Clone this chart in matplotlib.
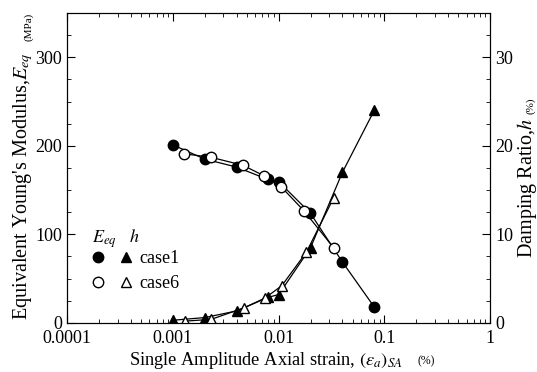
import matplotlib
matplotlib.use("Agg")
import matplotlib.pyplot as plt
from matplotlib.ticker import MultipleLocator, LogLocator, NullFormatter, FixedFormatter, FixedLocator
from matplotlib.lines import Line2D
from matplotlib.legend_handler import HandlerTuple

plt.rcParams['font.family'] = ['Liberation Serif', 'DejaVu Serif']
plt.rcParams['mathtext.fontset'] = 'stix'

# equivalent Young's modulus (MPa)
strain_e1 = [0.001, 0.002, 0.004, 0.0079, 0.0101, 0.0199, 0.0399, 0.08]
eeq_case1 = [201, 185, 176, 162, 159, 124, 69, 18]
strain_e6 = [0.00128, 0.0023, 0.0046, 0.0073, 0.0105, 0.0175, 0.033]
eeq_case6 = [191, 187, 178, 166, 154, 126, 85]

# damping ratio (%)
strain_h1 = [0.001, 0.002, 0.004, 0.008, 0.01, 0.02, 0.04, 0.08]
h_case1 = [0.3, 0.6, 1.35, 2.9, 3.2, 8.5, 17.0, 24.0]
strain_h6 = [0.0013, 0.0023, 0.0047, 0.0074, 0.0107, 0.0183, 0.033]
h_case6 = [0.2, 0.4, 1.7, 2.8, 4.2, 8.0, 14.1]

fig = plt.figure(figsize=(5.37, 3.72), dpi=100)
ax = fig.add_axes([0.125, 0.132, 0.788, 0.833])
ax2 = ax.twinx()

fs = 13
ms = 7.5
lw = 0.9

ax.plot(strain_e1, eeq_case1, 'o-', color='black', mfc='black', ms=ms, lw=lw)
ax.plot(strain_e6, eeq_case6, 'o-', color='black', mfc='white', ms=ms, lw=lw)
ax2.plot(strain_h1, h_case1, '^-', color='black', mfc='black', ms=ms, lw=lw)
ax2.plot(strain_h6, h_case6, '^-', color='black', mfc='white', ms=ms, lw=lw)

ax.set_xscale('log')
ax.set_xlim(0.0001, 1)
ax.set_ylim(0, 350)
ax2.set_ylim(0, 35)

ax.xaxis.set_major_locator(FixedLocator([0.0001, 0.001, 0.01, 0.1, 1]))
ax.xaxis.set_major_formatter(FixedFormatter(['0.0001', '0.001', '0.01', '0.1', '1']))
ax.xaxis.set_minor_locator(LogLocator(base=10, subs=range(2, 10)))
ax.xaxis.set_minor_formatter(NullFormatter())
ax.yaxis.set_major_locator(MultipleLocator(100))
ax.yaxis.set_minor_locator(MultipleLocator(25))
ax2.yaxis.set_major_locator(MultipleLocator(10))
ax2.yaxis.set_minor_locator(MultipleLocator(2.5))

ax.tick_params(which='both', direction='in', top=True, labelsize=fs)
ax.tick_params(which='major', length=6)
ax.tick_params(which='minor', length=3)
ax2.tick_params(which='both', direction='in', labelsize=fs)
ax2.tick_params(which='major', length=6)
ax2.tick_params(which='minor', length=3)
ax.tick_params(axis='x', pad=5)

ax.set_xlabel(r"Single Amplitude Axial strain, $(\varepsilon_a)_{SA}$", fontsize=13.2, x=0.47, labelpad=2)
ax.set_ylabel(r"Equivalent Young's Modulus,$E_{eq}$", fontsize=14.5, y=0.44, labelpad=0)
ax2.set_ylabel(r"Damping Ratio,$h$", fontsize=14.5, y=0.435, labelpad=1)
fig.text(0.778, 0.02, "(%)", fontsize=8.5)
fig.text(0.045, 0.965, "(MPa)", fontsize=8, rotation=90, va='top')
fig.text(0.98, 0.715, "(%)", fontsize=8, rotation=90, va='center')

# legend with marker-only proxies
c1 = Line2D([], [], ls='none', marker='o', color='black', mfc='black', ms=ms)
c6 = Line2D([], [], ls='none', marker='o', color='black', mfc='white', ms=ms)
tr1 = Line2D([], [], ls='none', marker='^', color='black', mfc='black', ms=ms)
tr6 = Line2D([], [], ls='none', marker='^', color='black', mfc='white', ms=ms)
leg = ax.legend([(c1, tr1), (c6, tr6)], ['case1', 'case6'],
                handler_map={tuple: HandlerTuple(ndivide=None, pad=0.9)},
                loc='upper left', bbox_to_anchor=(0.02, 0.36), frameon=False,
                fontsize=fs, handlelength=2.2, handletextpad=0.45, labelspacing=0.45,
                title=r"$E_{eq}$   $h$", title_fontsize=fs)
leg._legend_box.align = 'left'
leg._legend_box.sep = 0

fig.savefig('out.png', dpi=100)
